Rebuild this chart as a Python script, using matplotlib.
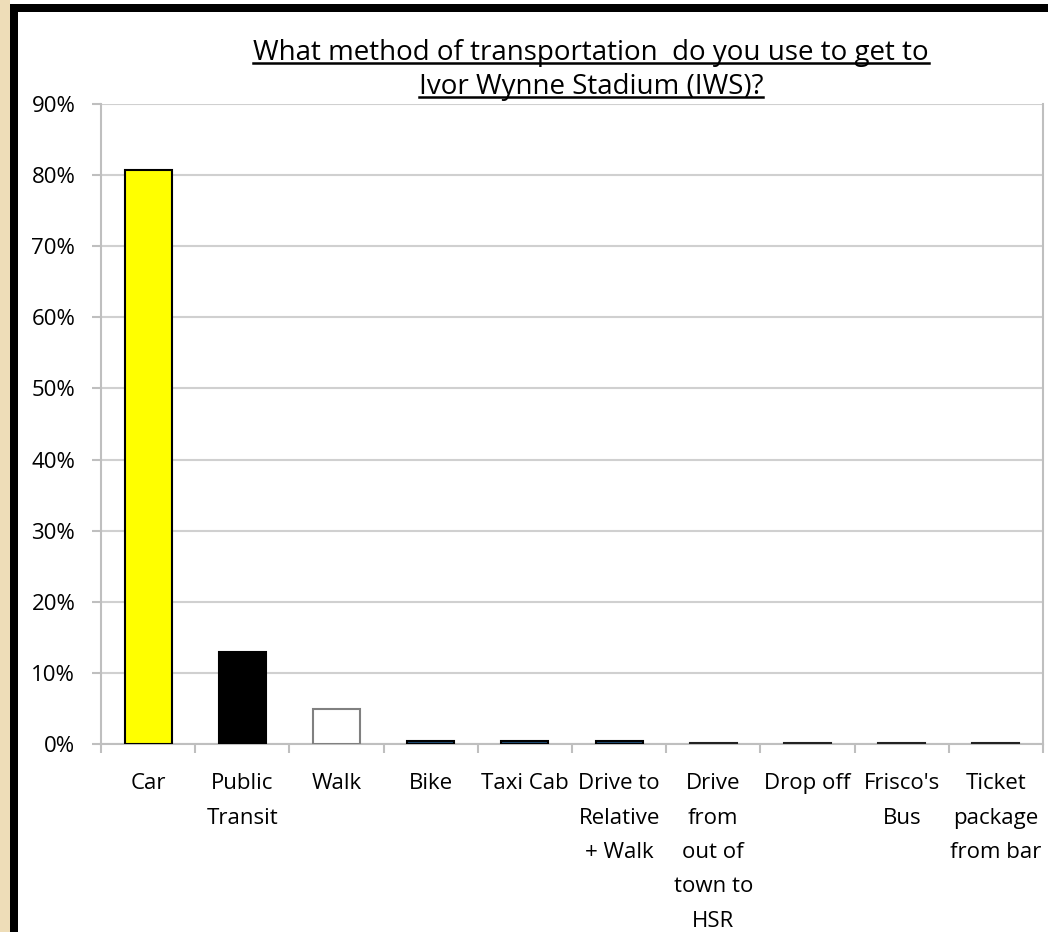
import matplotlib
matplotlib.use("Agg")
import matplotlib.pyplot as plt
from matplotlib.lines import Line2D
from matplotlib.patches import Rectangle

categories = ["Car", "Public\nTransit", "Walk", "Bike", "Taxi Cab",
              "Drive to\nRelative\n+ Walk", "Drive\nfrom\nout of\ntown to\nHSR",
              "Drop off", "Frisco's\nBus", "Ticket\npackage\nfrom bar"]
values = [0.807, 0.129, 0.049, 0.004, 0.004, 0.004, 0.001, 0.001, 0.001, 0.001]
bar_colors = ["#FFFF00", "#000000", "#FFFFFF", "#1F4E79", "#1F4E79", "#1F4E79",
              "#333333", "#333333", "#333333", "#333333"]
edge_colors = ["#000000", "#000000", "#808080", "#000000", "#000000", "#000000",
               "#222222", "#222222", "#222222", "#222222"]
yticks = [0.0, 0.1, 0.2, 0.3, 0.4, 0.5, 0.6, 0.7, 0.8, 0.9]
ytick_labels = ["0%", "10%", "20%", "30%", "40%", "50%", "60%", "70%", "80%", "90%"]
title_lines = ["What method of transportation  do you use to get to",
               "Ivor Wynne Stadium (IWS)?"]

plt.rcParams['font.family'] = ['Open Sans', 'DejaVu Sans']

W, H = 1048, 932
fig = plt.figure(figsize=(W / 100, H / 100), dpi=100)
fig.patch.set_facecolor("white")

# background strip and frame
fig.add_artist(Rectangle((0, 0), 10 / W, 1, transform=fig.transFigure,
                         facecolor="#EEDDB8", edgecolor="none", zorder=0))
fig.add_artist(Rectangle((10 / W, 0), 8 / W, 1 - 4 / H, transform=fig.transFigure,
                         facecolor="black", edgecolor="none", zorder=1))
fig.add_artist(Rectangle((10 / W, 1 - 12 / H), 1 - 10 / W, 8 / H, transform=fig.transFigure,
                         facecolor="black", edgecolor="none", zorder=1))

ax = fig.add_axes([101 / W, 1 - 744 / H, (1043 - 101) / W, (744 - 104) / H])
ax.set_facecolor("white")
x = list(range(len(categories)))
ax.bar(x, values, width=0.5, color=bar_colors, edgecolor=edge_colors,
       linewidth=1.5, zorder=3)
ax.set_xlim(-0.5, len(categories) - 0.5)
ax.set_ylim(0, 0.9)
ax.set_yticks(yticks)
ax.set_yticklabels(ytick_labels, fontsize=16, color="black")
ax.set_xticks(x)
ax.set_xticklabels(categories, fontsize=16, color="black", linespacing=1.84,
                   va="top")
ax.set_xticks([i + 0.5 for i in range(-1, len(categories))], minor=True)
ax.tick_params(axis="x", which="major", length=0, pad=21)
ax.tick_params(axis="x", which="minor", length=6.5, width=1.5, color="#BFBFBF",
               direction="out")
ax.tick_params(axis="y", which="major", length=6.5, width=1.5, color="#BFBFBF",
               pad=12)
ax.grid(axis="y", color="#D0D0D0", linewidth=1.5, zorder=0)
ax.set_axisbelow(True)
for s in ["left", "bottom", "right"]:
    ax.spines[s].set_color("#BFBFBF")
    ax.spines[s].set_linewidth(1.5)
ax.spines["top"].set_visible(False)

# title with underline
fig.canvas.draw()
renderer = fig.canvas.get_renderer()
ys = [1 - 53 / H, 1 - 87 / H]
for line, yy in zip(title_lines, ys):
    t = fig.text(591 / W, yy, line, ha="center", va="center", fontsize=20,
                 color="black")
    bb = t.get_window_extent(renderer=renderer)
    yl = (bb.y0 + 4) / H
    fig.add_artist(Line2D([bb.x0 / W, bb.x1 / W], [yl, yl], color="black",
                          linewidth=1.8, transform=fig.transFigure))

fig.savefig("out.png", dpi=100, facecolor="white")
